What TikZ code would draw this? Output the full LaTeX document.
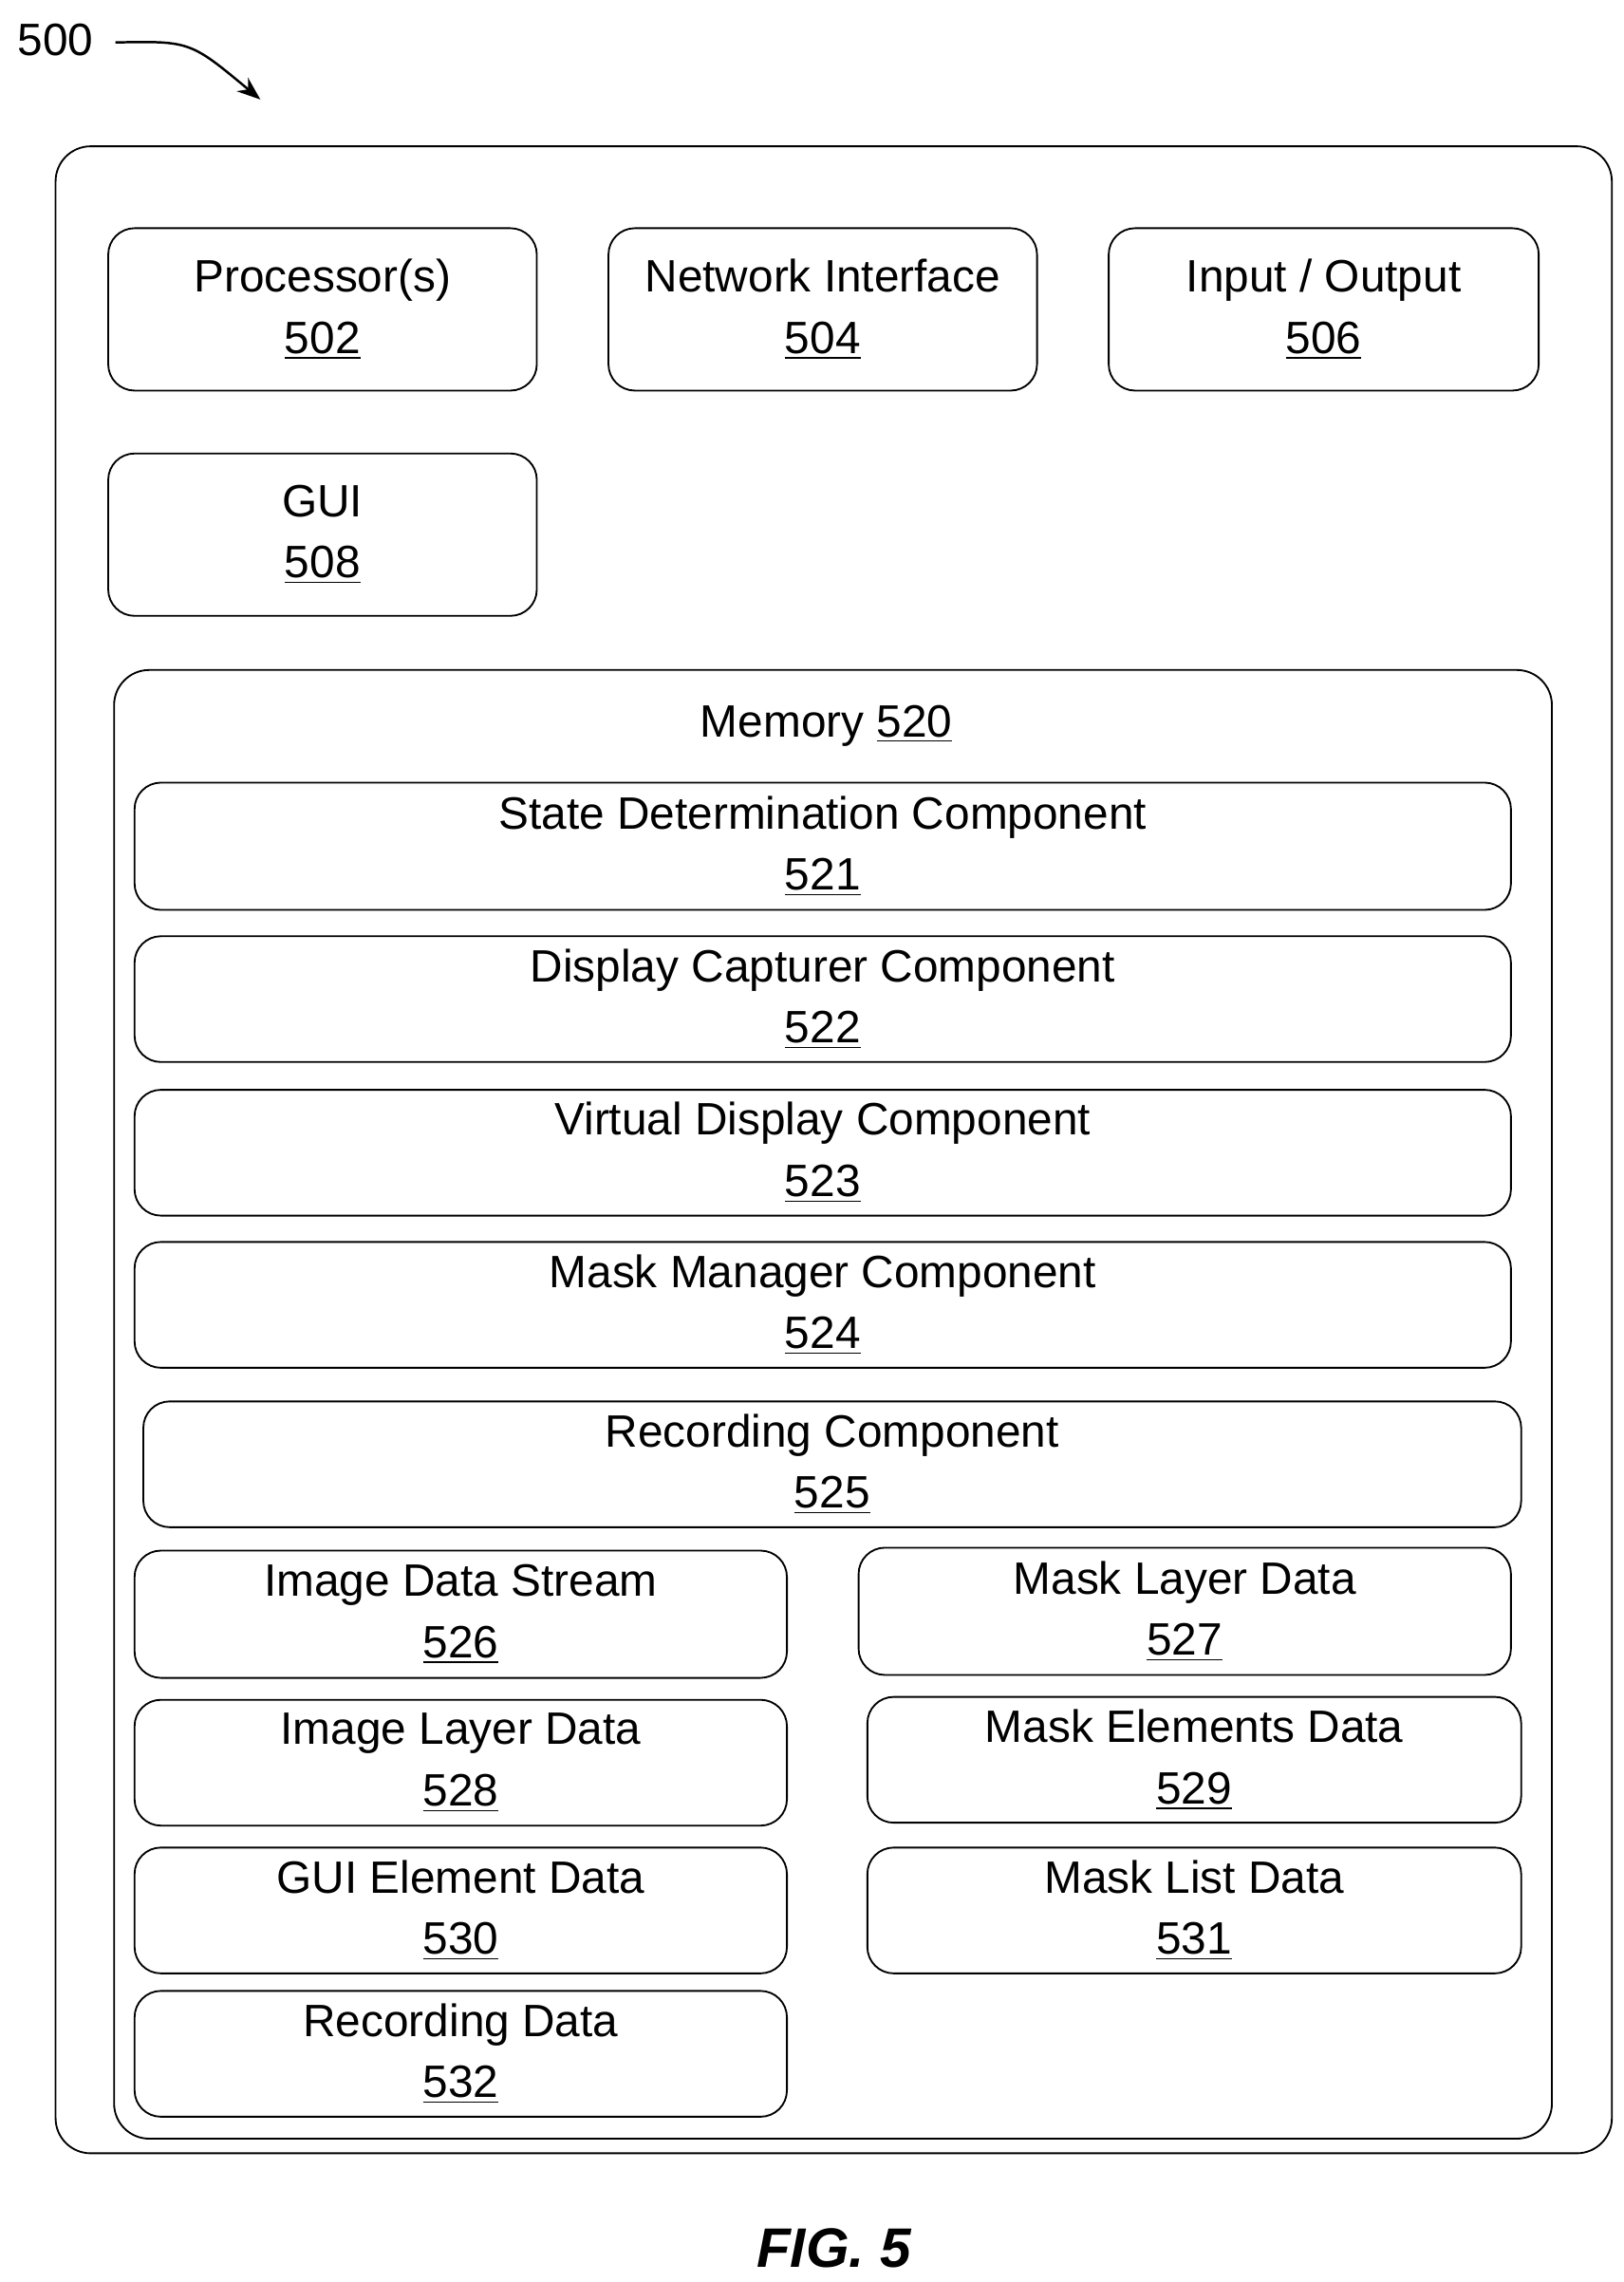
\documentclass[tikz,border=0pt]{standalone}
\usepackage{fontspec}
\setmainfont{Liberation Sans}
\usetikzlibrary{arrows.meta}
\begin{document}
\begin{tikzpicture}[x=0.5pt,y=-0.5pt,
  box/.style={draw, line width=0.6pt, rounded corners=9pt, align=center, inner sep=0pt,
    font=\fontsize{15.5}{21}\selectfont},
  lbl/.style={font=\fontsize{15.5}{21}\selectfont}]
\useasboundingbox (0,0) rectangle (1110,1560);

\def\bx#1#2#3#4#5#6{% name, x1, y1, x2, y2, text
  \node[box, minimum width={(#4-#2)*0.5pt}, minimum height={(#5-#3)*0.5pt}] (#1) at ({(#2+#4)/2},{(#3+#5)/2}) {#6};}

% outer device and memory
\draw[line width=0.6pt, rounded corners=12pt] (38,100) rectangle (1102,1472);
\draw[line width=0.6pt, rounded corners=12pt] (78,458) rectangle (1061,1462);

\bx{proc}{74}{156}{367}{267}{Processor(s)\\\underline{502}}
\bx{net}{416}{156}{709}{267}{Network Interface\\\underline{504}}
\bx{io}{758}{156}{1052}{267}{Input / Output\\\underline{506}}
\bx{gui}{74}{310}{367}{421}{GUI\\\underline{508}}

\node[lbl] (mem) at (565,496) {Memory \underline{520}};
\bx{state}{92}{535}{1033}{622}{State Determination Component\\\underline{521}}
\bx{capt}{92}{640}{1033}{726}{Display Capturer Component\\\underline{522}}
\bx{virt}{92}{745}{1033}{831}{Virtual Display Component\\\underline{523}}
\bx{mgr}{92}{849}{1033}{935}{Mask Manager Component\\\underline{524}}
\bx{rec}{98}{958}{1040}{1044}{Recording Component\\\underline{525}}
%
\bx{stream}{92}{1060}{538}{1147}{Image Data Stream\\\underline{526}}
\bx{imglay}{92}{1162}{538}{1248}{Image Layer Data\\\underline{528}}
\bx{guiel}{92}{1263}{538}{1349}{GUI Element Data\\\underline{530}}
\bx{recdat}{92}{1361}{538}{1447}{Recording Data\\\underline{532}}
\bx{masklay}{587}{1058}{1033}{1145}{Mask Layer Data\\\underline{527}}
\bx{maskel}{593}{1160}{1040}{1246}{Mask Elements Data\\\underline{529}}
\bx{masklist}{593}{1263}{1040}{1349}{Mask List Data\\\underline{531}}

% reference numeral
\node[lbl] (ref) at (38,27) {500};
\coordinate (refend) at (178,68);
\draw[-{Stealth[length=8pt]}, line width=0.8pt] (ref.east) ++(8,2) .. controls (130,28) .. (refend);

\node[font=\bfseries\itshape\fontsize{19}{23}\selectfont] (fig) at (570,1537) {FIG. 5};
\end{tikzpicture}
\end{document}
